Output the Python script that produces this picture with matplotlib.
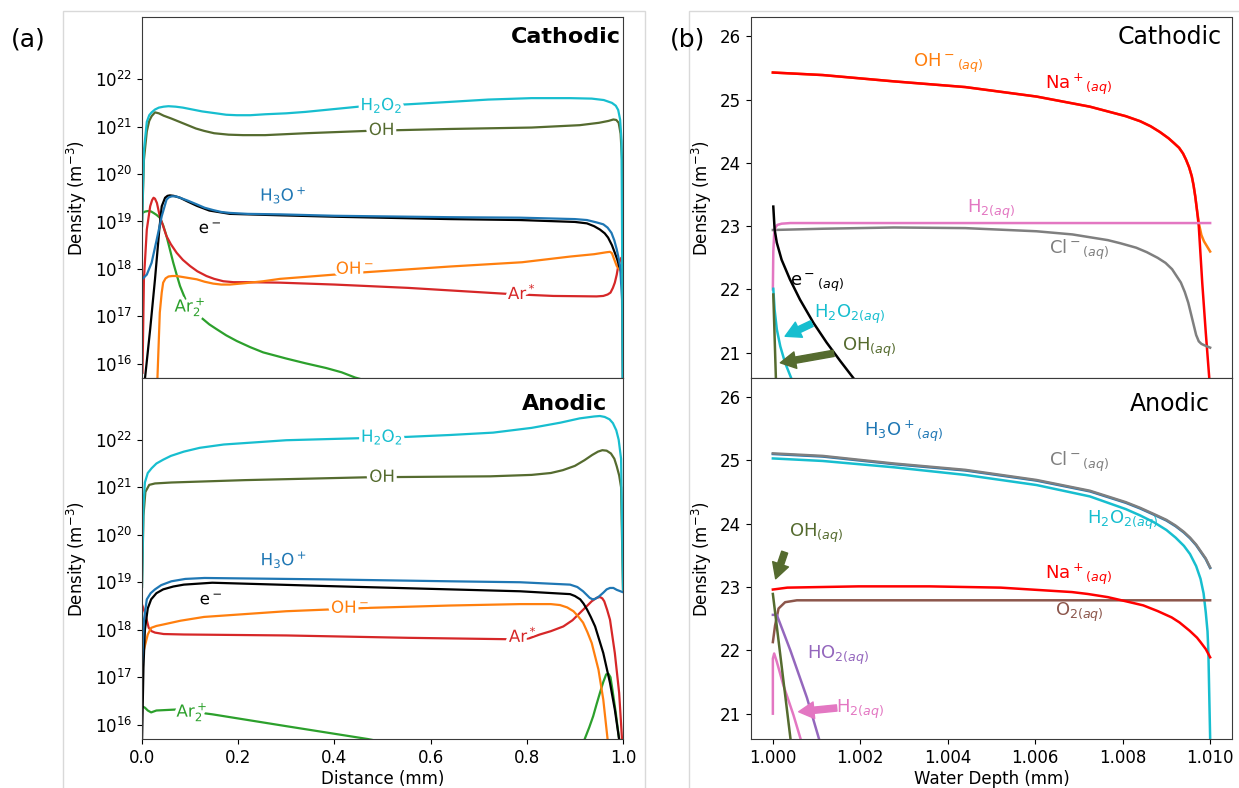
import numpy as np
import matplotlib
matplotlib.use("Agg")
import matplotlib.pyplot as plt
import matplotlib.patheffects as pe
from matplotlib.patches import Rectangle
from matplotlib.ticker import NullLocator

# ---------------- data: panel (a) cathodic (x in mm, log10 density) ----------------
ca_h2o2_x = [0, 0.004, 0.01, 0.015, 0.02, 0.027, 0.035, 0.045, 0.055, 0.07, 0.085, 0.10, 0.125, 0.154, 0.175, 0.197, 0.225, 0.256, 0.3, 0.34, 0.4, 0.45, 0.553, 0.638, 0.72, 0.81, 0.89, 0.935, 0.96, 0.977, 0.985, 0.99, 0.994, 0.997, 1.0]
ca_h2o2_y = [18.9, 20.5, 21.1, 21.24, 21.3, 21.36, 21.4, 21.42, 21.43, 21.42, 21.4, 21.37, 21.32, 21.28, 21.25, 21.24, 21.24, 21.26, 21.28, 21.31, 21.37, 21.42, 21.47, 21.52, 21.57, 21.6, 21.6, 21.59, 21.56, 21.5, 21.44, 21.35, 21.15, 20.7, 15.0]
ca_oh_x = [0, 0.004, 0.01, 0.015, 0.02, 0.027, 0.035, 0.045, 0.061, 0.078, 0.095, 0.112, 0.129, 0.15, 0.18, 0.21, 0.256, 0.34, 0.47, 0.64, 0.81, 0.91, 0.95, 0.97, 0.98, 0.986, 0.991, 0.995, 0.998, 1.0]
ca_oh_y = [18.9, 20.3, 20.9, 21.12, 21.22, 21.3, 21.28, 21.23, 21.17, 21.1, 21.03, 20.96, 20.91, 20.86, 20.83, 20.82, 20.82, 20.86, 20.91, 20.95, 20.98, 21.03, 21.08, 21.12, 21.15, 21.14, 21.08, 20.85, 20.3, 15.0]
ca_h3o_x = [0, 0.01, 0.02, 0.03, 0.041, 0.051, 0.056, 0.062, 0.07, 0.079, 0.095, 0.114, 0.13, 0.148, 0.165, 0.183, 0.22, 0.287, 0.4, 0.64, 0.786, 0.9, 0.925, 0.945, 0.959, 0.968, 0.976, 0.982, 0.987, 0.991, 0.994, 0.998, 1.0]
ca_h3o_y = [17.78, 17.88, 18.13, 18.59, 19.11, 19.46, 19.51, 19.53, 19.53, 19.5, 19.44, 19.36, 19.29, 19.24, 19.2, 19.18, 19.16, 19.15, 19.12, 19.09, 19.08, 19.05, 19.03, 18.98, 18.94, 18.87, 18.76, 18.6, 18.41, 18.22, 18.06, 17.36, 15.0]
ca_e_x = [0.006, 0.017, 0.027, 0.036, 0.041, 0.048, 0.053, 0.058, 0.066, 0.079, 0.095, 0.114, 0.14, 0.183, 0.287, 0.4, 0.64, 0.786, 0.9, 0.925, 0.94, 0.952, 0.962, 0.969, 0.977, 0.983, 0.988, 0.992, 0.997, 1.0]
ca_e_y = [15.67, 16.73, 17.78, 18.83, 19.32, 19.5, 19.54, 19.55, 19.54, 19.5, 19.42, 19.33, 19.23, 19.16, 19.13, 19.1, 19.05, 19.03, 18.99, 18.96, 18.9, 18.83, 18.75, 18.66, 18.5, 18.34, 18.2, 18.06, 17.95, 17.9]
ca_ohm_x = [0.032, 0.037, 0.041, 0.044, 0.049, 0.055, 0.063, 0.072, 0.09, 0.114, 0.13, 0.148, 0.165, 0.183, 0.215, 0.252, 0.287, 0.35, 0.45, 0.64, 0.79, 0.89, 0.94, 0.965, 0.973, 0.977, 0.981, 0.987, 0.994, 1.0]
ca_ohm_y = [15.67, 17.08, 17.5, 17.71, 17.8, 17.84, 17.85, 17.85, 17.82, 17.78, 17.73, 17.69, 17.67, 17.67, 17.7, 17.74, 17.79, 17.84, 17.92, 18.05, 18.14, 18.26, 18.31, 18.35, 18.36, 18.33, 18.22, 18.06, 17.97, 17.9]
ca_ar_x = [0.001, 0.004, 0.01, 0.017, 0.021, 0.024, 0.027, 0.031, 0.037, 0.044, 0.051, 0.06, 0.072, 0.085, 0.10, 0.115, 0.134, 0.15, 0.169, 0.19, 0.218, 0.287, 0.4, 0.553, 0.765, 0.855, 0.945, 0.959, 0.968, 0.974, 0.979, 0.983, 0.987, 0.99, 0.994, 0.997, 1.0]
ca_ar_y = [15.81, 17.78, 18.83, 19.32, 19.45, 19.5, 19.48, 19.39, 19.11, 18.9, 18.69, 18.52, 18.34, 18.19, 18.06, 17.95, 17.85, 17.79, 17.74, 17.72, 17.72, 17.71, 17.67, 17.6, 17.47, 17.43, 17.42, 17.43, 17.46, 17.5, 17.6, 17.71, 17.88, 18.06, 18.18, 18.24, 18.1]
ca_ar2_x = [0, 0.007, 0.013, 0.019, 0.024, 0.03, 0.037, 0.044, 0.051, 0.058, 0.065, 0.072, 0.079, 0.093, 0.11, 0.127, 0.14, 0.155, 0.175, 0.197, 0.225, 0.252, 0.3, 0.34, 0.383, 0.415, 0.443, 0.5]
ca_ar2_y = [19.18, 19.21, 19.22, 19.21, 19.18, 19.14, 19.08, 18.92, 18.69, 18.41, 18.13, 17.88, 17.64, 17.29, 17.08, 16.94, 16.83, 16.73, 16.6, 16.48, 16.35, 16.24, 16.11, 16.01, 15.91, 15.82, 15.71, 15.55]

# ---------------- data: panel (a) anodic ----------------
an_h2o2_x = [0, 0.003, 0.006, 0.012, 0.02, 0.03, 0.044, 0.06, 0.087, 0.12, 0.17, 0.3, 0.443, 0.55, 0.64, 0.73, 0.81, 0.87, 0.91, 0.94, 0.952, 0.962, 0.972, 0.979, 0.986, 0.991, 0.996, 1.0]
an_h2o2_y = [18.9, 20.6, 21.1, 21.3, 21.4, 21.5, 21.58, 21.66, 21.75, 21.83, 21.9, 21.99, 22.03, 22.06, 22.1, 22.15, 22.25, 22.36, 22.45, 22.49, 22.5, 22.48, 22.43, 22.35, 22.2, 22.0, 21.6, 18.85]
an_oh_x = [0, 0.003, 0.007, 0.015, 0.027, 0.061, 0.214, 0.469, 0.724, 0.81, 0.85, 0.875, 0.9, 0.92, 0.936, 0.948, 0.957, 0.966, 0.975, 0.982, 0.987, 0.992, 0.996, 1.0]
an_oh_y = [18.9, 20.4, 20.9, 21.05, 21.08, 21.1, 21.15, 21.21, 21.23, 21.26, 21.3, 21.36, 21.45, 21.57, 21.68, 21.75, 21.78, 21.77, 21.71, 21.6, 21.44, 21.25, 21.0, 18.85]
an_h3o_x = [0, 0.004, 0.01, 0.018, 0.027, 0.04, 0.061, 0.09, 0.13, 0.384, 0.64, 0.786, 0.89, 0.905, 0.917, 0.925, 0.931, 0.937, 0.942, 0.95, 0.959, 0.966, 0.973, 0.98, 0.987, 1.0]
an_h3o_y = [17.3, 18.2, 18.64, 18.77, 18.85, 18.94, 19.02, 19.07, 19.09, 19.06, 19.02, 19.0, 18.95, 18.9, 18.81, 18.73, 18.67, 18.64, 18.65, 18.7, 18.78, 18.85, 18.88, 18.88, 18.84, 18.79]
an_e_x = [0.0, 0.003, 0.006, 0.012, 0.019, 0.03, 0.044, 0.065, 0.087, 0.146, 0.384, 0.64, 0.786, 0.89, 0.9, 0.911, 0.918, 0.925, 0.933, 0.942, 0.959, 0.973, 0.983, 0.992]
an_e_y = [15.6, 17.2, 18.0, 18.45, 18.64, 18.77, 18.85, 18.91, 18.95, 18.99, 18.92, 18.85, 18.81, 18.75, 18.71, 18.64, 18.55, 18.43, 18.27, 18.07, 17.51, 16.88, 16.32, 15.69]
an_ohm_x = [0, 0.006, 0.012, 0.019, 0.03, 0.044, 0.08, 0.129, 0.3, 0.469, 0.64, 0.786, 0.85, 0.869, 0.884, 0.897, 0.907, 0.917, 0.926, 0.935, 0.949, 0.959, 0.968]
an_ohm_y = [17.4, 17.66, 17.9, 18.04, 18.08, 18.11, 18.19, 18.27, 18.39, 18.46, 18.51, 18.54, 18.54, 18.52, 18.47, 18.39, 18.28, 18.15, 17.95, 17.72, 17.16, 16.53, 15.69]
an_ar_x = [0, 0.006, 0.01, 0.014, 0.02, 0.027, 0.045, 0.087, 0.3, 0.554, 0.766, 0.786, 0.805, 0.827, 0.85, 0.876, 0.895, 0.911, 0.925, 0.935, 0.945, 0.952, 0.957, 0.961, 0.967, 0.973, 0.983, 0.992, 0.998]
an_ar_y = [18.53, 18.36, 18.2, 18.04, 17.97, 17.94, 17.91, 17.9, 17.88, 17.83, 17.8, 17.79, 17.82, 17.9, 17.97, 18.07, 18.2, 18.36, 18.5, 18.6, 18.67, 18.69, 18.66, 18.6, 18.42, 18.21, 17.51, 16.67, 15.69]
an_ar2_x = [0, 0.006, 0.012, 0.019, 0.03, 0.07, 0.146, 0.3, 0.469, 0.52, np.nan, 0.92, 0.93, 0.938, 0.945, 0.952, 0.959, 0.965, 0.97, 0.974, 0.978, 0.985, 0.992]
an_ar2_y = [16.39, 16.36, 16.3, 16.26, 16.3, 16.32, 16.22, 15.97, 15.7, 15.6, np.nan, 15.69, 15.95, 16.18, 16.43, 16.67, 16.9, 17.06, 17.07, 17.0, 16.74, 16.25, 15.69]

# ---------------- data: panel (b) cathodic (x in mm, log10 density) ----------------
cb_na_x = [1.0, 1.00114, 1.00277, 1.0044, 1.00603, 1.00725, 1.00807, 1.0084, 1.00864, 1.00885, 1.00905, 1.00918, 1.00929, 1.00938, 1.00945, 1.00952, 1.00958, 1.00962, 1.00966, 1.0097, 1.00974, 1.00982, 1.0099, 1.00998]
cb_na_y = [25.43, 25.39, 25.29, 25.2, 25.05, 24.89, 24.74, 24.66, 24.58, 24.49, 24.39, 24.31, 24.24, 24.15, 24.05, 23.93, 23.79, 23.65, 23.47, 23.25, 23.0, 22.1, 21.32, 20.6]
cb_ohm_x = [1.0, 1.00114, 1.00277, 1.0044, 1.00603, 1.00725, 1.00807, 1.0084, 1.00864, 1.00885, 1.00905, 1.00918, 1.00929, 1.00938, 1.00945, 1.00952, 1.00958, 1.00962, 1.00966, 1.0097, 1.00975, 1.0098, 1.00986, 1.00993, 1.01]
cb_ohm_y = [25.43, 25.39, 25.29, 25.2, 25.05, 24.89, 24.74, 24.66, 24.58, 24.49, 24.39, 24.31, 24.24, 24.15, 24.05, 23.93, 23.79, 23.65, 23.47, 23.25, 23.02, 22.86, 22.76, 22.68, 22.6]
cb_h2_x = [1.0, 1.00001, 1.00003, 1.00006, 1.0001, 1.0002, 1.0004, 1.01]
cb_h2_y = [22.0, 22.6, 22.88, 22.98, 23.02, 23.04, 23.05, 23.05]
cb_cl_x = [1.0, 1.00114, 1.00277, 1.0044, 1.00603, 1.00685, 1.00766, 1.00795, 1.00831, 1.00855, 1.0088, 1.00898, 1.00913, 1.00933, 1.00942, 1.0095, 1.00956, 1.00962, 1.00968, 1.00974, 1.0098, 1.00986, 1.01]
cb_cl_y = [22.94, 22.96, 22.98, 22.97, 22.92, 22.87, 22.78, 22.73, 22.66, 22.59, 22.5, 22.42, 22.32, 22.11, 21.96, 21.79, 21.62, 21.45, 21.28, 21.18, 21.14, 21.12, 21.08]
cb_e_x = [1.00001, 1.00004, 1.00009, 1.0002, 1.00039, 1.00062, 1.00093, 1.00123, 1.00154, 1.00184]
cb_e_y = [23.31, 22.95, 22.74, 22.47, 22.16, 21.84, 21.47, 21.16, 20.87, 20.6]
cb_h2o2_x = [1.00001, 1.00004, 1.00009, 1.00017, 1.00028, 1.00043]
cb_h2o2_y = [22.01, 21.68, 21.37, 21.1, 20.84, 20.58]
cb_oh_x = [1.00001, 1.00007]
cb_oh_y = [21.92, 20.58]

# ---------------- data: panel (b) anodic ----------------
ab_x = [1.0, 1.00114, 1.00277, 1.0044, 1.00603, 1.00725, 1.00807, 1.0084, 1.00872, 1.009, 1.00921, 1.0094, 1.00954, 1.00968, 1.00978, 1.0099, 1.01]
ab_cl_y = [25.11, 25.07, 24.95, 24.85, 24.69, 24.52, 24.34, 24.25, 24.15, 24.06, 23.97, 23.87, 23.78, 23.67, 23.57, 23.45, 23.31]
ab_h3o_y = [25.1, 25.06, 24.94, 24.84, 24.68, 24.51, 24.33, 24.24, 24.14, 24.05, 23.96, 23.86, 23.77, 23.66, 23.56, 23.44, 23.3]
ab_h2o2_x = [1.0, 1.00114, 1.00277, 1.0044, 1.00603, 1.00725, 1.00807, 1.0084, 1.00872, 1.009, 1.00921, 1.0094, 1.00954, 1.00968, 1.00978, 1.00985, 1.0099, 1.00994, 1.00996, 1.00998, 1.01]
ab_h2o2_y = [25.03, 24.99, 24.89, 24.77, 24.61, 24.43, 24.23, 24.13, 24.02, 23.9, 23.78, 23.65, 23.52, 23.33, 23.13, 22.9, 22.6, 22.3, 21.97, 21.29, 20.62]
ab_na_x = [1.0, 1.00033, 1.00196, 1.00358, 1.00521, 1.00684, 1.0072, 1.00766, 1.0081, 1.00847, 1.0088, 1.00912, 1.0093, 1.00953, 1.0097, 1.00978, 1.0099, 1.01]
ab_na_y = [22.96, 22.99, 23.01, 23.01, 22.99, 22.92, 22.89, 22.84, 22.77, 22.71, 22.62, 22.52, 22.44, 22.31, 22.2, 22.13, 22.02, 21.89]
ab_o2_x = [1.0, 1.00005, 1.00013, 1.00028, 1.00055, 1.01]
ab_o2_y = [22.13, 22.39, 22.66, 22.76, 22.79, 22.79]
ab_oh_x = [1.0, 1.00043]
ab_oh_y = [22.89, 20.45]
ab_ho2_x = [1.0, 1.00009, 1.0004, 1.00078, 1.00112]
ab_ho2_y = [22.56, 22.56, 22.0, 21.25, 20.45]
ab_h2_x = [1.0, 1.0, 1.00003, 1.00009, 1.00024, 1.00047, 1.0007]
ab_h2_y = [21.0, 21.87, 21.95, 21.82, 21.45, 20.98, 20.45]

left_ticks = [16, 17, 18, 19, 20, 21, 22]
right_yticks = [21, 22, 23, 24, 25, 26]
left_xticks = [0.0, 0.2, 0.4, 0.6, 0.8, 1.0]
right_xticks = [1.000, 1.002, 1.004, 1.006, 1.008, 1.010]

C_H2O2 = '#17becf'; C_OH = '#556b2f'; C_H3O = '#1f77b4'; C_E = 'black'
C_OHM = '#ff7f0e'; C_AR = '#d62728'; C_AR2 = '#2ca02c'
C_NA = '#ff0000'; C_CL = '#7f7f7f'; C_H2 = '#e377c2'; C_O2 = '#8c564b'; C_HO2 = '#9467bd'

plt.rcParams['font.family'] = ['DejaVu Sans']
W, H = 1239, 788
fig = plt.figure(figsize=(W / 100, H / 100), dpi=100)

def fx(px):
    return px / W

def fy(py):
    return 1 - py / H

# light frames around the panels
fig.add_artist(Rectangle((fx(62.5), -0.02), fx(645) - fx(62.5), fy(10.5) + 0.02,
                         transform=fig.transFigure, fill=False, ec='#d9d9d9', lw=1.0, zorder=0))
fig.add_artist(Rectangle((fx(689), -0.02), 0.5, fy(10.5) + 0.02,
                         transform=fig.transFigure, fill=False, ec='#d9d9d9', lw=1.0, zorder=0))

axw = fx(623) - fx(142)
axh = (378 - 17.5) / H
ax_lt = fig.add_axes([fx(142), fy(378), axw, axh])
ax_lb = fig.add_axes([fx(142), fy(739), axw, (739 - 378) / H])
ax_rt = fig.add_axes([fx(751), fy(378), fx(1232) - fx(751), axh])
ax_rb = fig.add_axes([fx(751), fy(739), fx(1232) - fx(751), (739 - 378) / H])

outline = [pe.withStroke(linewidth=5, foreground='white')]

def lplot(ax, x, y, c):
    ax.plot(x, 10.0 ** np.asarray(y, dtype=float), color=c, lw=1.6)

def llabel(ax, x, ly, s, c):
    ax.text(x, 10.0 ** ly, s, color=c, fontsize=12, ha='center', va='center',
            path_effects=outline, zorder=5)

# ---- (a) cathodic
ax = ax_lt
lplot(ax, ca_ar2_x, ca_ar2_y, C_AR2)
lplot(ax, ca_ar_x, ca_ar_y, C_AR)
lplot(ax, ca_ohm_x, ca_ohm_y, C_OHM)
lplot(ax, ca_e_x, ca_e_y, C_E)
lplot(ax, ca_h3o_x, ca_h3o_y, C_H3O)
lplot(ax, ca_oh_x, ca_oh_y, C_OH)
lplot(ax, ca_h2o2_x, ca_h2o2_y, C_H2O2)
llabel(ax, 0.498, 21.45, r'H$_2$O$_2$', C_H2O2)
llabel(ax, 0.498, 20.93, 'OH', C_OH)
llabel(ax, 0.294, 19.56, r'H$_3$O$^+$', C_H3O)
llabel(ax, 0.142, 18.86, r'e$^-$', C_E)
llabel(ax, 0.443, 18.0, r'OH$^-$', C_OHM)
llabel(ax, 0.79, 17.49, r'Ar$^*$', C_AR)
llabel(ax, 0.10, 17.2, r'Ar$_2^+$', C_AR2)
ax.text(0.995, 0.945, 'Cathodic', transform=ax.transAxes, ha='right', va='center',
        fontsize=16, fontweight='bold')

# ---- (a) anodic
ax = ax_lb
lplot(ax, an_ar2_x, an_ar2_y, C_AR2)
lplot(ax, an_ar_x, an_ar_y, C_AR)
lplot(ax, an_ohm_x, an_ohm_y, C_OHM)
lplot(ax, an_e_x, an_e_y, C_E)
lplot(ax, an_h3o_x, an_h3o_y, C_H3O)
lplot(ax, an_oh_x, an_oh_y, C_OH)
lplot(ax, an_h2o2_x, an_h2o2_y, C_H2O2)
llabel(ax, 0.499, 22.06, r'H$_2$O$_2$', C_H2O2)
llabel(ax, 0.499, 21.22, 'OH', C_OH)
llabel(ax, 0.295, 19.48, r'H$_3$O$^+$', C_H3O)
llabel(ax, 0.144, 18.64, r'e$^-$', C_E)
llabel(ax, 0.433, 18.46, r'OH$^-$', C_OHM)
llabel(ax, 0.792, 17.87, r'Ar$^*$', C_AR)
llabel(ax, 0.104, 16.27, r'Ar$_2^+$', C_AR2)
ax.text(0.967, 0.928, 'Anodic', transform=ax.transAxes, ha='right', va='center',
        fontsize=16, fontweight='bold')

for ax in (ax_lt, ax_lb):
    ax.set_yscale('log')
    ax.set_xlim(0, 1)
    ax.set_ylim(10 ** 15.7, 10 ** 23.3)
    ax.set_yticks([10.0 ** t for t in left_ticks])
    ax.set_yticklabels([r'$10^{%d}$' % t for t in left_ticks])
    ax.yaxis.set_minor_locator(NullLocator())
    ax.set_ylabel(r'Density (m$^{-3}$)', fontsize=12)
    ax.tick_params(labelsize=12)
ax_lt.set_xticks(left_xticks)
ax_lt.tick_params(axis='x', length=0, labelbottom=False)
ax_lb.set_xticks(left_xticks)
ax_lb.set_xticklabels(['%.1f' % t for t in left_xticks])
ax_lb.set_xlabel('Distance (mm)', fontsize=12, labelpad=2)

# ---- (b) cathodic
ax = ax_rt
lw = 1.8
ax.plot(cb_ohm_x, cb_ohm_y, color=C_OHM, lw=lw)
ax.plot(cb_na_x, cb_na_y, color=C_NA, lw=lw)
ax.plot(cb_cl_x, cb_cl_y, color=C_CL, lw=lw)
ax.plot(cb_h2_x, cb_h2_y, color=C_H2, lw=lw)
ax.plot(cb_h2o2_x, cb_h2o2_y, color=C_H2O2, lw=lw)
ax.plot(cb_oh_x, cb_oh_y, color=C_OH, lw=lw)
ax.plot(cb_e_x, cb_e_y, color=C_E, lw=lw)
rt = dict(fontsize=13, ha='center', va='center')
ax.text(1.0040, 25.58, r'OH$^-$$_{(aq)}$', color=C_OHM, **rt)
ax.text(1.0070, 25.24, r'Na$^+$$_{(aq)}$', color=C_NA, **rt)
ax.text(1.0050, 23.26, r'H$_{2(aq)}$', color=C_H2, **rt)
ax.text(1.0070, 22.63, r'Cl$^-$$_{(aq)}$', color=C_CL, **rt)
ax.text(1.0010, 22.1, r'e$^-$$_{(aq)}$', color=C_E, **rt)
ax.text(1.00175, 21.6, r'H$_2$O$_{2(aq)}$', color=C_H2O2, **rt)
ax.text(1.0022, 21.08, r'OH$_{(aq)}$', color=C_OH, **rt)
arr = dict(width=4.5, headwidth=12, headlength=11, shrink=0)
ax.annotate('', xy=(1.00028, 21.26), xytext=(1.00089, 21.46),
            arrowprops=dict(fc=C_H2O2, ec=C_H2O2, **arr))
ax.annotate('', xy=(1.00017, 20.84), xytext=(1.00139, 20.99),
            arrowprops=dict(fc=C_OH, ec=C_OH, **arr))
ax.text(0.979, 0.945, 'Cathodic', transform=ax.transAxes, ha='right', va='center', fontsize=17)

# ---- (b) anodic
ax = ax_rb
ax.plot(ab_x, ab_h3o_y, color=C_H3O, lw=lw)
ax.plot(ab_x, ab_cl_y, color=C_CL, lw=lw)
ax.plot(ab_h2o2_x, ab_h2o2_y, color=C_H2O2, lw=lw)
ax.plot(ab_o2_x, ab_o2_y, color=C_O2, lw=lw)
ax.plot(ab_na_x, ab_na_y, color=C_NA, lw=lw)
ax.plot(ab_ho2_x, ab_ho2_y, color=C_HO2, lw=lw)
ax.plot(ab_h2_x, ab_h2_y, color=C_H2, lw=lw)
ax.plot(ab_oh_x, ab_oh_y, color=C_OH, lw=lw)
ax.text(1.0030, 25.46, r'H$_3$O$^+$$_{(aq)}$', color=C_H3O, **rt)
ax.text(1.0070, 24.97, r'Cl$^-$$_{(aq)}$', color=C_CL, **rt)
ax.text(1.0080, 24.05, r'H$_2$O$_{2(aq)}$', color=C_H2O2, **rt)
ax.text(1.0010, 23.84, r'OH$_{(aq)}$', color=C_OH, **rt)
ax.text(1.0070, 23.2, r'Na$^+$$_{(aq)}$', color=C_NA, **rt)
ax.text(1.0070, 22.6, r'O$_{2(aq)}$', color=C_O2, **rt)
ax.text(1.0015, 21.92, r'HO$_{2(aq)}$', color=C_HO2, **rt)
ax.text(1.0020, 21.07, r'H$_{2(aq)}$', color=C_H2, **rt)
ax.annotate('', xy=(1.000064, 23.13), xytext=(1.00027, 23.55),
            arrowprops=dict(fc=C_OH, ec=C_OH, **arr))
ax.annotate('', xy=(1.00059, 21.03), xytext=(1.00146, 21.09),
            arrowprops=dict(fc=C_H2, ec=C_H2, **arr))
ax.text(0.954, 0.928, 'Anodic', transform=ax.transAxes, ha='right', va='center', fontsize=17)

for ax in (ax_rt, ax_rb):
    ax.set_xlim(0.9995, 1.0105)
    ax.set_ylim(20.6, 26.3)
    ax.set_yticks(right_yticks)
    ax.set_xticks(right_xticks)
    ax.set_ylabel(r'Density (m$^{-3}$)', fontsize=12)
    ax.tick_params(labelsize=12)
ax_rt.tick_params(axis='x', length=0, labelbottom=False)
ax_rb.set_xticklabels(['%.3f' % t for t in right_xticks])
ax_rb.set_xlabel('Water Depth (mm)', fontsize=12, labelpad=2)

for ax in (ax_lt, ax_lb, ax_rt, ax_rb):
    for s in ax.spines.values():
        s.set_color('#3a3a3a')

fig.text(fx(28), fy(40), '(a)', fontsize=18, ha='center', va='center')
fig.text(fx(688), fy(40), '(b)', fontsize=18, ha='center', va='center')

fig.savefig('out.png', dpi=100)
